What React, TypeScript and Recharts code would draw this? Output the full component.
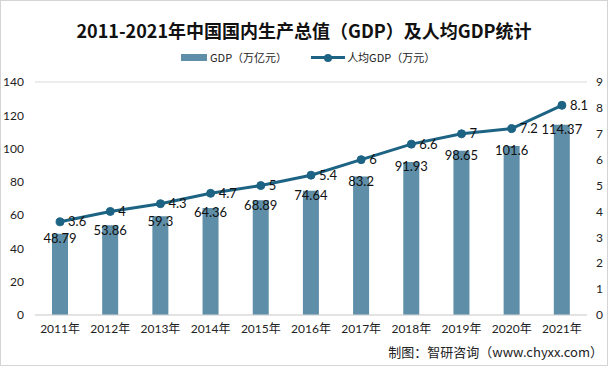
import React from "react";
import { ComposedChart, Bar, Line, XAxis, YAxis, CartesianGrid, LabelList } from "recharts";

const years = ["2011年", "2012年", "2013年", "2014年", "2015年", "2016年", "2017年", "2018年", "2019年", "2020年", "2021年"];
const gdp = [48.79, 53.86, 59.3, 64.36, 68.89, 74.64, 83.2, 91.93, 98.65, 101.6, 114.37];
const perCapita = [3.6, 4, 4.3, 4.7, 5, 5.4, 6, 6.6, 7, 7.2, 8.1];
const leftTicks = [0, 20, 40, 60, 80, 100, 120, 140];
const rightTicks = [0, 1, 2, 3, 4, 5, 6, 7, 8, 9];

const data = years.map((y, i) => ({ year: y, gdp: gdp[i], pc: perCapita[i] }));

const BAR = "#5e8ea8";
const LINE = "#1d6384";
const FONT = "'Noto Sans CJK SC', Lato, sans-serif";
const NUMFONT = "Lato, 'Noto Sans CJK SC', sans-serif";

export default function App() {
  return (
    <div style={{ position: "fixed", left: 0, top: 0, width: 608, height: 366, background: "#fff", fontFamily: FONT }}>
      <div style={{ position: "absolute", left: 0, top: 0, width: 606, height: 364, border: "1px solid #d4d4d4" }} />
      <div style={{ position: "absolute", left: 0, top: 17, width: 608, textAlign: "center", fontSize: 18, fontWeight: 700, color: "#111", lineHeight: "26px" }}>
        2011-2021年中国国内生产总值（GDP）及人均GDP统计
      </div>
      <div style={{ position: "absolute", left: 181, top: 49, height: 16, display: "flex", alignItems: "center", fontSize: 11, color: "#222" }}>
        <span style={{ display: "inline-block", width: 26, height: 7, background: BAR, marginRight: 3 }} />
        <span>GDP（万亿元）</span>
        <span style={{ position: "relative", display: "inline-block", width: 34, height: 16, marginLeft: 24, marginRight: 2 }}>
          <span style={{ position: "absolute", left: 0, top: 7, width: 34, height: 3, background: LINE }} />
          <span style={{ position: "absolute", left: 13, top: 4.5, width: 8, height: 8, borderRadius: 4, background: LINE }} />
        </span>
        <span>人均GDP（万元）</span>
      </div>
      <ComposedChart width={608} height={366} data={data} margin={{ top: 82, right: 0, bottom: 31, left: 0 }} style={{ position: "absolute", left: 0, top: 0 }}>
        <CartesianGrid vertical={false} stroke="#d9d9d9" />
        <XAxis dataKey="year" axisLine={{ stroke: "#d9d9d9" }} tickLine={false} tick={{ fontSize: 12, fill: "#222", fontFamily: NUMFONT }} height={20} tickSize={0} tickMargin={9} interval={0} />
        <YAxis yAxisId="l" domain={[0, 140]} ticks={leftTicks} width={35} axisLine={false} tickLine={false} tickSize={0} tickMargin={11} tick={{ fontSize: 12, fill: "#222", fontFamily: NUMFONT }} />
        <YAxis yAxisId="r" orientation="right" domain={[0, 9]} ticks={rightTicks} width={21} axisLine={false} tickLine={false} tickSize={0} tickMargin={9} tick={{ fontSize: 12, fill: "#222", fontFamily: NUMFONT }} />
        <Bar yAxisId="l" dataKey="gdp" fill={BAR} barSize={16} isAnimationActive={false}>
          <LabelList dataKey="gdp" position="insideTop" offset={0} style={{ fontSize: 13, fill: "#111", fontFamily: NUMFONT }} />
        </Bar>
        <Line yAxisId="r" dataKey="pc" stroke={LINE} strokeWidth={3} dot={{ r: 4, fill: LINE, stroke: LINE, strokeWidth: 1 }} isAnimationActive={false}>
          <LabelList dataKey="pc" position="right" offset={8} style={{ fontSize: 13, fill: "#111", fontFamily: NUMFONT }} />
        </Line>
      </ComposedChart>
      <div style={{ position: "absolute", right: 5, top: 342, fontSize: 13, color: "#222", whiteSpace: "nowrap" }}>
        制图：智研咨询（www.chyxx.com）
      </div>
    </div>
  );
}
